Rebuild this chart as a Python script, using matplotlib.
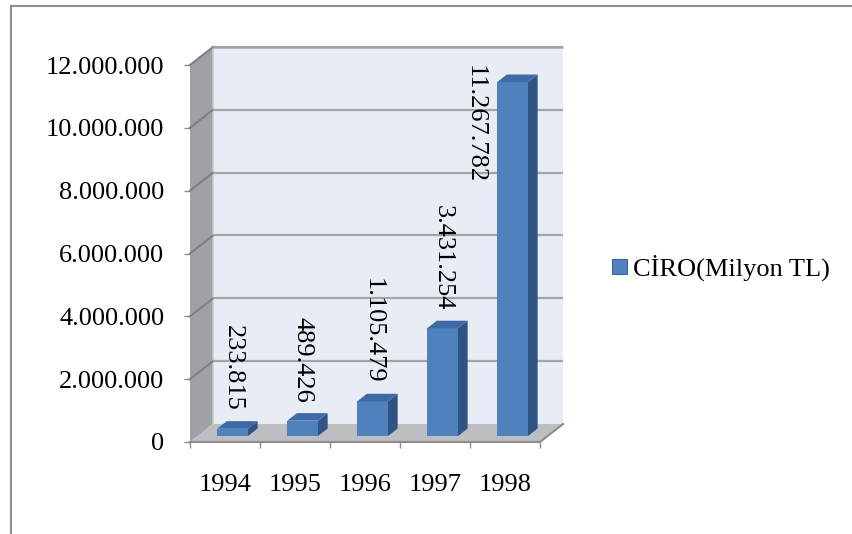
import matplotlib
matplotlib.use("Agg")
import matplotlib.pyplot as plt
from matplotlib.patches import Polygon, Patch
from matplotlib.lines import Line2D
from matplotlib.transforms import offset_copy

years = ["1994", "1995", "1996", "1997", "1998"]
ciro = [233815, 489426, 1105479, 3431254, 11267782]
series_name = "CİRO(Milyon TL)"
y_ticks = [0, 2000000, 4000000, 6000000, 8000000, 10000000, 12000000]


def tr_number(v):
    return f"{v:,}".replace(",", ".")


plt.rcParams['font.family'] = ['Liberation Serif', 'DejaVu Serif']
FS = 19

W, H = 852, 534
fig = plt.figure(figsize=(W / 100, H / 100), dpi=100)
fig.patch.set_facecolor('white')

# front plane of the 3-D plot box, in pixels
x0_px, x1_px, y0_px, y1_px = 190, 540, 442, 65
ax = fig.add_axes([x0_px / W, 1 - y0_px / H, (x1_px - x0_px) / W, (y0_px - y1_px) / H])
n = len(years)
ymax = y_ticks[-1]
ax.set_xlim(0, n)
ax.set_ylim(0, ymax)
ax.set_facecolor('none')
for s in ax.spines.values():
    s.set_visible(False)

# depth vector of the box: 23 px right, 18 px up, expressed in data units
DX = 23 / ((x1_px - x0_px) / n)
DY = 18 / ((y0_px - y1_px) / ymax)

WALL_BACK = '#e8ecf5'
WALL_SIDE = '#9ea1a6'
FLOOR = '#bdbec1'
GRID = '#a4a4a4'
GRID_SIDE = '#7d8085'
EDGE = '#8c8c8c'
FRONT = '#4f81bd'
SIDE = '#2f5483'
TOP = '#3e6ba4'


def poly(pts, fc, z, ec='none', lw=0):
    p = Polygon(pts, closed=True, facecolor=fc, edgecolor=ec, lw=lw,
                zorder=z, clip_on=False)
    ax.add_patch(p)
    return p


# walls and floor
poly([(0, 0), (DX, DY), (DX, ymax + DY), (0, ymax)], WALL_SIDE, 1)
poly([(DX, DY), (n + DX, DY), (n + DX, ymax + DY), (DX, ymax + DY)], WALL_BACK, 1)
poly([(0, 0), (n, 0), (n + DX, DY), (DX, DY)], FLOOR, 1)
ax.plot([DX, n + DX], [ymax + DY] * 2, color='#b4b6ba', lw=2, zorder=2,
        clip_on=False, solid_capstyle='butt')
ax.plot([DX, DX], [DY, ymax + DY], color='#c9cbcf', lw=1.2, zorder=2, clip_on=False)

# gridlines on side and back walls
for v in y_ticks[1:]:
    ax.plot([0, DX], [v, v + DY], color=GRID_SIDE, lw=1.5, zorder=2, clip_on=False)
    ax.plot([DX, n + DX], [v + DY, v + DY], color=GRID, lw=1.6, zorder=2,
            clip_on=False, solid_capstyle='butt')

# floor edges / category axis line
ax.plot([0, n, n + DX], [0, 0, DY], color=EDGE, lw=1.5, zorder=3, clip_on=False)

# 3-D bars
F0, F1 = 0.33, 0.75
BW = 0.44
labels = []
for i, v in enumerate(ciro):
    xl = i + 0.5 - BW / 2 + F0 * DX
    xr = xl + BW
    yb = F0 * DY
    yt = v + F0 * DY
    ddx = (F1 - F0) * DX
    ddy = (F1 - F0) * DY
    poly([(xl, yb), (xr, yb), (xr, yt), (xl, yt)], FRONT, 5)
    poly([(xr, yb), (xr + ddx, yb + ddy), (xr + ddx, yt + ddy), (xr, yt)], SIDE, 5)
    poly([(xl, yt), (xr, yt), (xr + ddx, yt + ddy), (xl + ddx, yt + ddy)], TOP, 5)
    t = ax.text((xl + xr) / 2, yt, tr_number(v), rotation=270, ha='center',
                va='bottom', fontsize=FS, zorder=6, clip_on=False,
                transform=offset_copy(ax.transData, fig, x=0, y=18, units='dots'))
    labels.append((t, xl))

# labels that would run past the top of the box go beside their bar
fig.canvas.draw()
top_px = ax.transAxes.transform((0, 1))[1]
for t, xl in labels:
    bb = t.get_window_extent()
    if bb.y1 > top_px:
        t.set_transform(offset_copy(ax.transData, fig, x=-23, y=0, units='dots'))
        t.set_position((xl, ymax))
        t.set_va('top')

# axes ticks
ax.set_yticks(y_ticks, labels=[tr_number(v) for v in y_ticks])
ax.tick_params(axis='y', length=4.5, width=1, color=EDGE, pad=14, labelsize=FS)
ax.set_xticks(range(n + 1), labels=[''] * (n + 1))
ax.tick_params(axis='x', which='major', length=4.5, width=1, color=EDGE)
ax.set_xticks([i + 0.5 for i in range(n)], labels=years, minor=True)
ax.tick_params(axis='x', which='minor', length=0, pad=23, labelsize=FS)

# legend
fig.legend(handles=[Patch(facecolor=FRONT, edgecolor='#3a6596', lw=0.8)],
           labels=[series_name], loc='center left',
           bbox_to_anchor=(612 / W, 1 - 268 / H), frameon=False, fontsize=FS,
           handlelength=0.55, handleheight=0.55, handletextpad=0.25,
           borderpad=0, borderaxespad=0)

# chart area border (top and left edges)
fig.add_artist(Line2D([10.5 / W, 1], [1 - 5.5 / H] * 2, transform=fig.transFigure,
                      color='#8e8e8e', lw=1.5))
fig.add_artist(Line2D([10.5 / W] * 2, [0, 1 - 5.5 / H], transform=fig.transFigure,
                      color='#8e8e8e', lw=1.5))

fig.savefig('out.png', dpi=100)
